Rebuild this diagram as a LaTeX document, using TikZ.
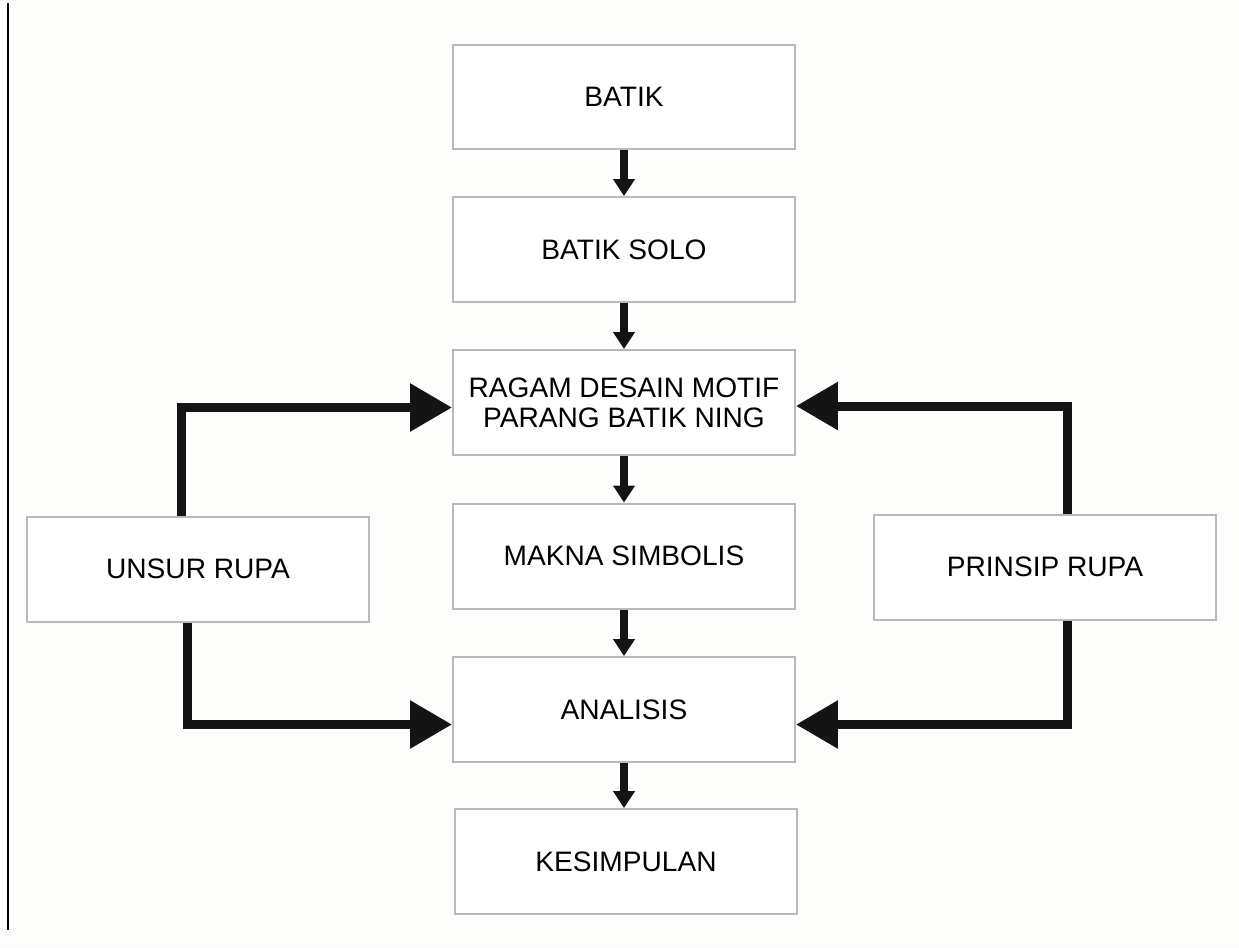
\documentclass[tikz,border=0pt]{standalone}
\usepackage{fontspec}
\setmainfont{Liberation Sans}
\usetikzlibrary{arrows.meta}
\definecolor{boxline}{RGB}{185,185,185}
\definecolor{pagebg}{RGB}{253,253,251}
\tikzset{
  block/.style={draw=boxline, line width=0.04cm, fill=white, minimum width=6.84cm,
    minimum height=2.1cm, inner sep=0pt, align=center,
    font=\fontsize{16pt}{17pt}\selectfont},
  flow/.style={line width=0.16cm, black!92, -{Triangle[length=0.34cm,width=0.42cm]}},
  feed/.style={line width=0.18cm, black!92, -{Triangle[length=0.84cm,width=0.92cm]}},
}
\begin{document}
\begin{tikzpicture}[x=0.02cm, y=-0.02cm]
\useasboundingbox (0,0) rectangle (1239,947);
\fill[pagebg] (0,0) rectangle (1239,947);
\draw[line width=0.04cm] (8,3) -- (8,930);
% main column
\node[block] (batik) at (624,97) {BATIK};
\node[block] (solo) at (624,249.5) {BATIK SOLO};
\node[block] (ragam) at (624,402.5) {RAGAM DESAIN MOTIF\\PARANG BATIK NING};
\node[block] (makna) at (624,556) {MAKNA SIMBOLIS};
\node[block] (analisis) at (624,709.5) {ANALISIS};
\node[block] (hasil) at (626,861.5) {KESIMPULAN};
% side boxes
\node[block] (unsur) at (198,569) {UNSUR RUPA};
\node[block] (prinsip) at (1045,567) {PRINSIP RUPA};
\draw[flow] (batik) -- (solo);
\draw[flow] (solo) -- (ragam);
\draw[flow] (ragam) -- (makna);
\draw[flow] (makna) -- (analisis);
\draw[flow] (analisis.south) -- (analisis.south |- hasil.north);
\draw[feed] ([xshift=-0.34cm]unsur.north) |- ([yshift=-0.1cm]ragam.west);
\draw[feed] ([xshift=-0.22cm]unsur.south) |- ([yshift=-0.3cm]analisis.west);
\draw[feed] ([xshift=0.44cm]prinsip.north) |- ([yshift=-0.07cm]ragam.east);
\draw[feed] ([xshift=0.44cm]prinsip.south) |- ([yshift=-0.3cm]analisis.east);
\end{tikzpicture}
\end{document}
